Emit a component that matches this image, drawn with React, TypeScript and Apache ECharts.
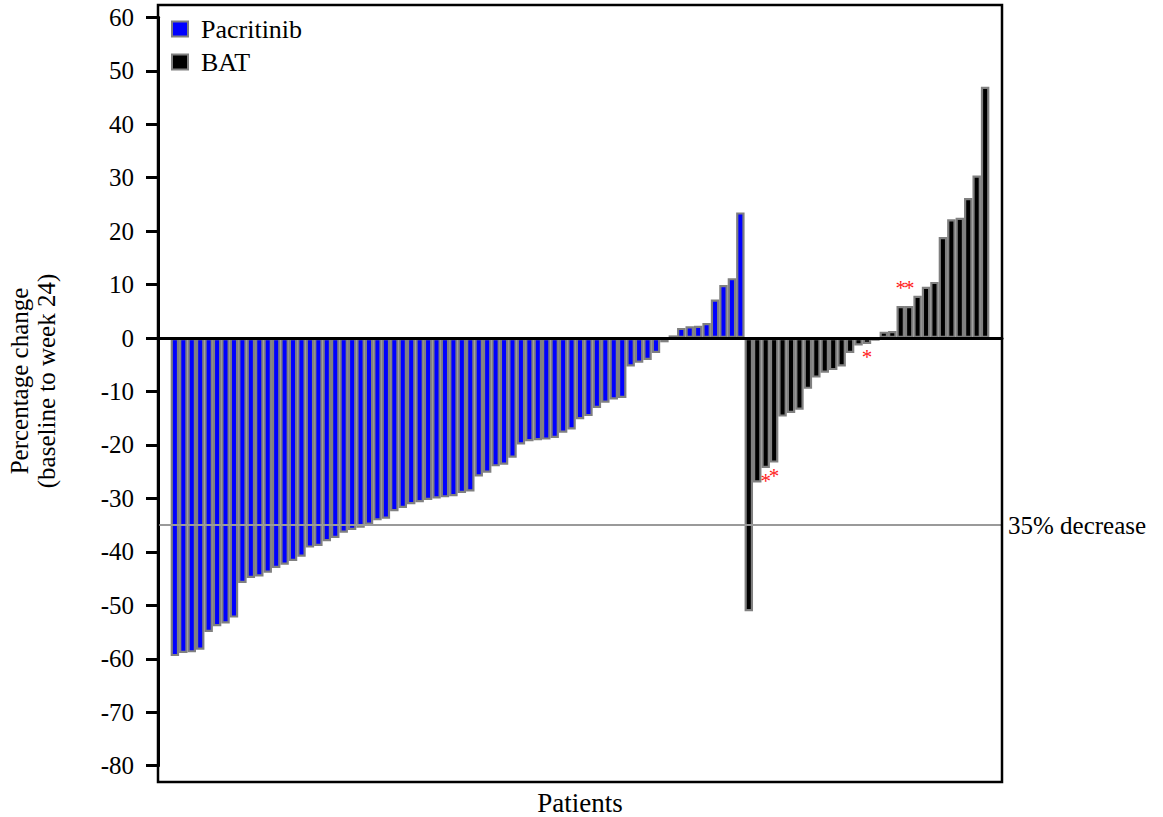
import React, { useEffect, useRef } from "react";
import * as echarts from "echarts";

// Percentage change per patient, sorted
const pacritinib: number[] = [
  -59.5, -58.9, -58.8, -58.3, -55.0, -53.9, -53.4, -52.3,
  -45.8, -44.9, -44.6, -43.9, -43.0, -42.4, -41.7, -40.9,
  -39.2, -38.9, -38.0, -37.4, -36.4, -35.9, -35.5, -34.9,
  -34.1, -33.8, -32.4, -31.8, -31.1, -30.7, -30.3, -30.0,
  -29.8, -29.6, -29.0, -28.7, -25.9, -25.2, -24.0, -23.7,
  -22.4, -19.9, -19.3, -19.1, -19.0, -18.7, -17.7, -17.1,
  -15.2, -14.6, -13.1, -12.1, -11.5, -11.2, -5.3, -4.6,
  -4.1, -2.8, -0.8, 0.5, 1.9, 2.2, 2.3, 2.8,
  7.2, 9.9, 11.2, 23.5,
];
const bat: number[] = [
  -51.1, -27.0, -24.3, -23.3, -14.7, -14.0, -13.4, -9.5,
  -7.4, -6.5, -6.0, -5.3, -2.8, -1.4, -1.1, -0.5,
  1.2, 1.3, 6.0, 6.0, 7.9, 9.6, 10.5, 18.9,
  22.2, 22.5, 26.2, 30.4, 47.0,
];
// red asterisk annotations: [series, index within series, text, side]
const asterisks: [string, number, string, string][] = [
  ["BAT", 2, "*", "bottom"],
  ["BAT", 3, "*", "bottom"],
  ["BAT", 14, "*", "bottom"],
  ["BAT", 18, "*", "top"],
  ["BAT", 19, "*", "top"],
];
const yTicks = { min: -80, max: 60, interval: 10 };
const threshold = -35;
const thresholdLabel = "35% decrease";
const seriesNames = ["Pacritinib", "BAT"];
const padBefore = 2;
const padAfter = 2;

const FONT = "'Times New Roman', 'Liberation Serif', serif";

export default function App() {
  const ref = useRef<HTMLDivElement>(null);
  useEffect(() => {
    if (!ref.current) return;
    const chart = echarts.init(ref.current, undefined, { renderer: "svg" });
    const total = padBefore + pacritinib.length + bat.length + padAfter;
    const categories = Array.from({ length: total }, (_, i) => String(i));
    const emptyArr = (n: number) => Array.from({ length: n }, () => "-" as any);

    const mkItems = (name: string, vals: number[]) =>
      vals.map((v, i) => {
        const a = asterisks.find((s) => s[0] === name && s[1] === i);
        if (!a) return v;
        return {
          value: v,
          label: {
            show: true,
            position: a[3],
            formatter: a[2],
            color: "#ff1a1a",
            fontSize: 21,
            fontFamily: FONT,
            distance: a[3] === "top" ? 7 : 3,
          },
        };
      });

    const pacData = [
      ...emptyArr(padBefore),
      ...mkItems("Pacritinib", pacritinib),
      ...emptyArr(bat.length + padAfter),
    ];
    const batData = [
      ...emptyArr(padBefore + pacritinib.length),
      ...mkItems("BAT", bat),
      ...emptyArr(padAfter),
    ];

    const border = { borderColor: "#808080", borderWidth: 2.2 };

    chart.setOption({
      animation: false,
      textStyle: { fontFamily: FONT },
      grid: { left: 158, right: 161, top: 17.3, bottom: 51.3, containLabel: false },
      legend: {
        orient: "vertical",
        left: 166,
        top: 11,
        itemWidth: 16,
        itemHeight: 15,
        itemGap: 7,
        icon: "rect",
        textStyle: { fontSize: 26, fontFamily: FONT, color: "#000", padding: [0, 0, 0, 8] },
        data: [
          { name: seriesNames[0], itemStyle: { color: "#0000ff", borderColor: "#808080", borderWidth: 2 } },
          { name: seriesNames[1], itemStyle: { color: "#000000", borderColor: "#808080", borderWidth: 2 } },
        ],
      },
      xAxis: {
        type: "category",
        data: categories,
        boundaryGap: false,
        z: 10,
        axisLine: { show: true, onZero: true, lineStyle: { color: "#000", width: 3 } },
        axisTick: { show: false },
        axisLabel: { show: false },
        splitLine: { show: false },
      },
      yAxis: {
        type: "value",
        min: yTicks.min,
        max: yTicks.max,
        interval: yTicks.interval,
        axisLine: { show: true, lineStyle: { color: "#000", width: 3 } },
        axisTick: { show: true, length: 12, lineStyle: { color: "#000", width: 3 } },
        axisLabel: { color: "#000", fontSize: 25, fontFamily: FONT, margin: 24 },
        splitLine: { show: false },
      },
      series: [
        {
          name: seriesNames[0],
          type: "bar",
          data: pacData,
          barGap: "-100%",
          barCategoryGap: "0%",
          itemStyle: { color: "#0000ff", ...border },
          markLine: {
            silent: true,
            symbol: ["none", "none"],
            lineStyle: { color: "#9a9a9a", width: 2, type: "solid" },
            label: {
              show: true,
              position: "end",
              formatter: thresholdLabel,
              color: "#000",
              fontSize: 25,
              fontFamily: FONT,
              distance: 6,
            },
            data: [{ yAxis: threshold }],
          },
        },
        {
          name: seriesNames[1],
          type: "bar",
          data: batData,
          barGap: "-100%",
          barCategoryGap: "0%",
          itemStyle: { color: "#000000", ...border },
        },
      ],
      graphic: [
        {
          type: "rect",
          shape: { x: 158, y: 5, width: 844, height: 777 },
          style: { fill: "none", stroke: "#000", lineWidth: 2.5 },
          z: 100,
          silent: true,
        },
        {
          type: "text",
          x: 33,
          y: 381,
          rotation: Math.PI / 2,
          style: {
            text: "Percentage change\n(baseline to week 24)",
            font: `25px ${FONT}`,
            fill: "#000",
            align: "center",
            verticalAlign: "middle",
            textAlign: "center",
            textVerticalAlign: "middle",
            lineHeight: 27,
          },
        },
        {
          type: "text",
          x: 580,
          y: 803,
          style: {
            text: "Patients",
            font: `27px ${FONT}`,
            fill: "#000",
            align: "center",
            verticalAlign: "middle",
            textAlign: "center",
            textVerticalAlign: "middle",
          },
        },
      ],
    });
    return () => chart.dispose();
  }, []);
  return (
    <div
      ref={ref}
      style={{ position: "fixed", left: 0, top: 0, width: 1163, height: 817, background: "#fff" }}
    />
  );
}
